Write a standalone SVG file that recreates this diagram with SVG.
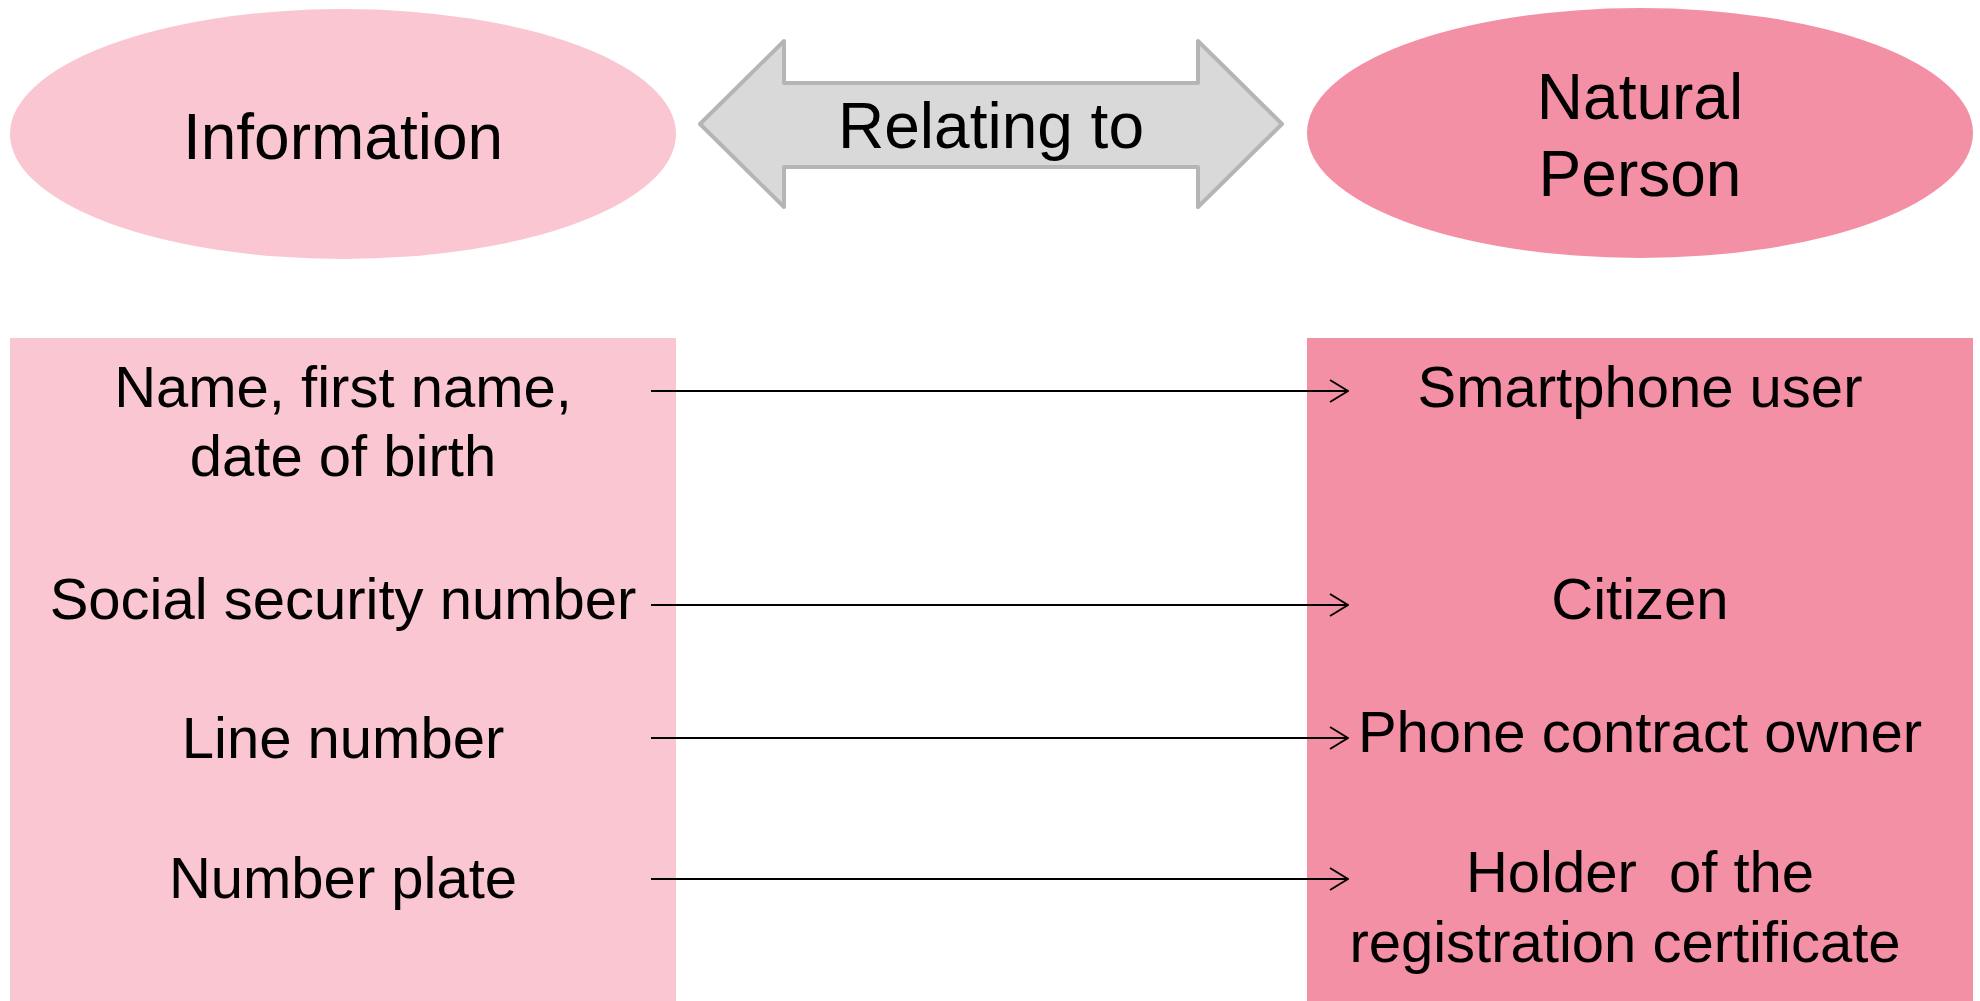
<svg xmlns="http://www.w3.org/2000/svg" width="1980" height="1001" viewBox="0 0 1980 1001">
<style>
  text { font-family: "Liberation Sans", Arial, sans-serif; fill: #000; text-anchor: middle; }
  .big { font-size: 64px; }
  .mid { font-size: 58px; }
  .light { fill: #F9C6D2; }
  .dark { fill: #F490A5; }
  .conn { stroke: #000; stroke-width: 2; fill: none; }
</style>
<defs>
  <marker id="open" viewBox="0 0 20 24" refX="19" refY="12" markerWidth="20" markerHeight="24" markerUnits="userSpaceOnUse" orient="auto">
    <path d="M1,1 L19,12 L1,23" fill="none" stroke="#000" stroke-width="2"/>
  </marker>
</defs>
<rect width="1980" height="1001" fill="#fff"/>
<g id="information">
  <ellipse class="light" cx="343" cy="134" rx="333" ry="125"/>
  <text class="big" x="343" y="159">Information</text>
</g>
<g id="natural-person">
  <ellipse class="dark" cx="1640" cy="133" rx="333" ry="125"/>
  <text class="big" x="1640" y="119">Natural</text>
  <text class="big" x="1640" y="196">Person</text>
</g>
<g id="relating-to">
  <path d="M700,124 L784,41 L784,83 L1198,83 L1198,41 L1282,124 L1198,207 L1198,167 L784,167 L784,207 Z" fill="#D9D9D9" stroke="#B5B5B5" stroke-width="4" stroke-linejoin="round"/>
  <text class="big" x="991" y="148">Relating to</text>
</g>
<g id="information-list">
  <rect class="light" x="10" y="338" width="666" height="663"/>
  <text class="mid" x="343" y="407">Name, first name,</text>
  <text class="mid" x="343" y="476">date of birth</text>
  <text class="mid" x="343" y="619">Social security number</text>
  <text class="mid" x="343" y="758">Line number</text>
  <text class="mid" x="343" y="898">Number plate</text>
</g>
<g id="person-list">
  <rect class="dark" x="1307" y="338" width="666" height="663"/>
  <text class="mid" x="1640" y="407">Smartphone user</text>
  <text class="mid" x="1640" y="619">Citizen</text>
  <text class="mid" x="1640" y="752">Phone contract owner</text>
  <text class="mid" x="1640" y="892" xml:space="preserve">Holder  of the</text>
  <text class="mid" x="1625" y="962">registration certificate</text>
</g>
<g id="connectors">
  <line class="conn" x1="651" y1="391" x2="1348" y2="391" marker-end="url(#open)"/>
  <line class="conn" x1="651" y1="605" x2="1348" y2="605" marker-end="url(#open)"/>
  <line class="conn" x1="651" y1="738" x2="1348" y2="738" marker-end="url(#open)"/>
  <line class="conn" x1="651" y1="879" x2="1348" y2="879" marker-end="url(#open)"/>
</g>
</svg>
